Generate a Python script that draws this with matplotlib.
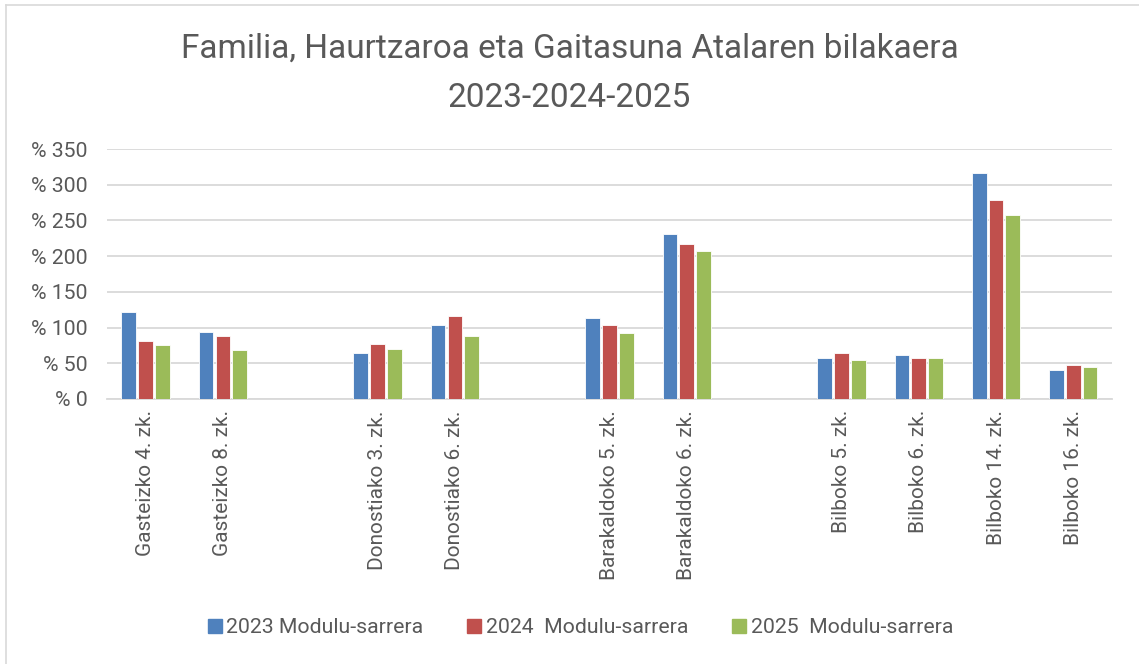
import numpy as np
import matplotlib
matplotlib.use("Agg")
import matplotlib.pyplot as plt
from matplotlib.lines import Line2D

# empty strings are the blank slots between the cities
categories = ["Gasteizko 4. zk.", "Gasteizko 8. zk.", "",
              "Donostiako 3. zk.", "Donostiako 6. zk.", "",
              "Barakaldoko 5. zk.", "Barakaldoko 6. zk.", "",
              "Bilboko 5. zk.", "Bilboko 6. zk.", "Bilboko 14. zk.", "Bilboko 16. zk."]
nan = np.nan
v2023 = [122, 94, nan, 64, 103, nan, 113, 231, nan, 57, 62, 317, 41]
v2024 = [81, 88, nan, 77, 116, nan, 104, 217, nan, 64, 57, 278, 48]
v2025 = [75, 69, nan, 70, 88, nan, 93, 207, nan, 54, 57, 258, 45]
series_names = ["2023 Modulu-sarrera", "2024  Modulu-sarrera", "2025  Modulu-sarrera"]
colors = ["#4F81BD", "#C0504D", "#9BBB59"]
yticks = [0, 50, 100, 150, 200, 250, 300, 350]

txt = "#595959"
plt.rcParams['font.family'] = ["Roboto", "DejaVu Sans"]

fig = plt.figure(figsize=(11.39, 6.64), dpi=100)
ax = fig.add_axes([0.0939, 0.3991, 0.8824, 0.3765])

x = np.arange(len(categories))
pitch = 0.217
for i, vals in enumerate([v2023, v2024, v2025]):
    ax.bar(x + (i - 1) * pitch, vals, width=0.19, color=colors[i],
           edgecolor="white", linewidth=0.6, zorder=3)

ax.set_xlim(-0.5, len(categories) - 0.5)
ax.set_ylim(0, 350)
ax.set_yticks(yticks)
ax.set_yticklabels(["% " + str(t) for t in yticks], fontsize=15.3, color=txt)
ax.set_xticks(x)
ax.set_xticklabels(categories, rotation=90, fontsize=15, color=txt)
ax.tick_params(axis="both", length=0)
ax.tick_params(axis="x", pad=8)
ax.tick_params(axis="y", pad=14)
ax.grid(axis="y", color="#D9D9D9", linewidth=1.3, zorder=0)
for s in ["top", "right", "left"]:
    ax.spines[s].set_visible(False)
ax.spines["bottom"].set_color("#D9D9D9")
ax.spines["bottom"].set_linewidth(1.3)

fig.text(0.5, 0.926, "Familia, Haurtzaroa eta Gaitasuna Atalaren bilakaera",
         ha="center", va="center", fontsize=24, color=txt)
fig.text(0.5, 0.852, "2023-2024-2025", ha="center", va="center",
         fontsize=24, color=txt)

handles = [Line2D([], [], marker="s", linestyle="none", markersize=10,
                  markerfacecolor=c, markeredgecolor=c) for c in colors]
fig.legend(handles, series_names, loc="center", bbox_to_anchor=(0.509, 0.055),
           ncol=3, frameon=False, prop={"size": 15.3},
           labelcolor=txt, handletextpad=0.15, columnspacing=2.0, handlelength=0.8)

# light frame on the left and top edges
fig.add_artist(Line2D([0.005, 0.005], [0, 0.993], color="#D9D9D9", linewidth=1.2))
fig.add_artist(Line2D([0.005, 1], [0.993, 0.993], color="#D9D9D9", linewidth=1.2))

fig.savefig("out.png", dpi=100)
